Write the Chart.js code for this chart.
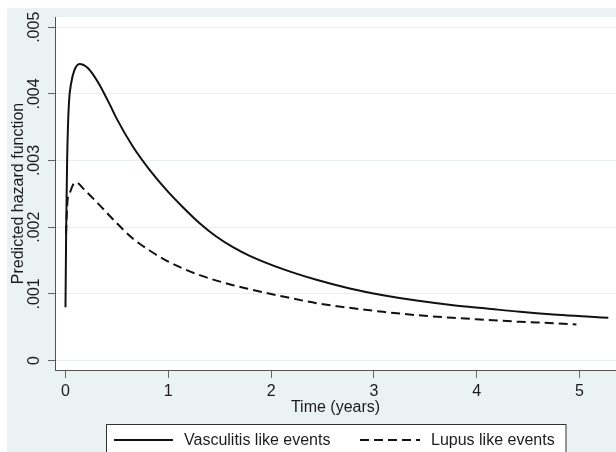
<!DOCTYPE html>
<html>
<head>
<meta charset="utf-8">
<script src="https://cdn.jsdelivr.net/npm/chart.js@4.4.0/dist/chart.umd.min.js"></script>
<style>
  html, body { margin: 0; padding: 0; background: #fff; }
  canvas { display: block; }
</style>
</head>
<body>
<canvas id="hazardChart" width="616" height="452"></canvas>
<script>
// values
const vascTime = [0.0, 0.007, 0.016, 0.024, 0.035, 0.055, 0.088, 0.136, 0.217, 0.315, 0.428, 0.494, 0.655, 0.818, 0.981, 1.142, 1.305, 1.467, 1.629, 1.792, 2.116, 2.441, 2.765, 3.09, 3.415, 3.771, 4.096, 4.421, 4.745, 5.07, 5.28];
const vascHazard = [0.0008, 0.0020, 0.0030, 0.0035, 0.0039, 0.00416, 0.00436, 0.00445, 0.00439, 0.00418, 0.00385, 0.00364, 0.00321, 0.00286, 0.00256, 0.0023, 0.00206, 0.00186, 0.0017, 0.00157, 0.00137, 0.00121, 0.00108, 0.00098, 0.0009, 0.00083, 0.00078, 0.00073, 0.00069, 0.00066, 0.00064];

const lupusTime = [0.005, 0.02, 0.039, 0.071, 0.104, 0.185, 0.32, 0.48, 0.655, 0.818, 0.981, 1.142, 1.305, 1.629, 1.792, 2.116, 2.441, 2.765, 3.09, 3.415, 3.771, 4.096, 4.421, 4.745, 4.97];
const lupusHazard = [0.0019, 0.0024, 0.0025, 0.00263, 0.00267, 0.00256, 0.00235, 0.00209, 0.00183, 0.00165, 0.0015, 0.00138, 0.00128, 0.00113, 0.00107, 0.00096, 0.00086, 0.00079, 0.00073, 0.00068, 0.00064, 0.00061, 0.00058, 0.00056, 0.00054];

const xTicks = [0, 1, 2, 3, 4, 5];
const yTicks = [0, 0.001, 0.002, 0.003, 0.004, 0.005];
const seriesLabels = ['Vasculitis like events', 'Lupus like events'];

const toPoints = (xs, ys) => xs.map((x, i) => ({ x: x, y: ys[i] }));

const BG = 'rgb(234,242,243)';
const FONT = '"Liberation Sans", Arial, sans-serif';
const INK = '#1c1c1c';

// fond + zone blanche du graphique
const backgroundPlugin = {
    id: 'stataBackground',
    beforeDraw(chart) {
        const ctx = chart.ctx;
        const a = chart.chartArea;
        ctx.save();
        ctx.fillStyle = '#ffffff';
        ctx.fillRect(0, 0, chart.width, chart.height);
        ctx.fillStyle = BG;
        ctx.fillRect(7, 8, chart.width - 7, chart.height - 8);
        ctx.fillStyle = '#ffffff';
        ctx.fillRect(a.left, a.top, a.right - a.left, a.bottom - a.top);
        ctx.restore();
    }
};

// légende encadrée en bas
const boxLegendPlugin = {
    id: 'boxLegend',
    afterDraw(chart) {
        const ctx = chart.ctx;
        ctx.save();
        ctx.fillStyle = '#ffffff';
        ctx.strokeStyle = '#333333';
        ctx.lineWidth = 1;
        ctx.fillRect(106.5, 424.5, 459.5, 40);
        ctx.strokeRect(106.5, 424.5, 459.5, 40);

        const items = [
            { x0: 114, x1: 173, tx: 184 },
            { x0: 360, x1: 420, tx: 431 }
        ];
        chart.data.datasets.forEach((ds, i) => {
            const it = items[i];
            ctx.beginPath();
            ctx.setLineDash(ds.borderDash || []);
            ctx.strokeStyle = ds.borderColor;
            ctx.lineWidth = ds.borderWidth;
            ctx.moveTo(it.x0, 440);
            ctx.lineTo(it.x1, 440);
            ctx.stroke();
            ctx.setLineDash([]);
            ctx.fillStyle = INK;
            ctx.font = '16px ' + FONT;
            ctx.textBaseline = 'middle';
            ctx.textAlign = 'left';
            ctx.fillText(ds.label, it.tx, 441);
        });
        ctx.restore();
    }
};

const ctx = document.getElementById('hazardChart').getContext('2d');
new Chart(ctx, {
    type: 'line',
    data: {
        datasets: [{
            label: seriesLabels[0],
            data: toPoints(vascTime, vascHazard),
            borderColor: '#111111',
            borderWidth: 2,
            pointRadius: 0,
            cubicInterpolationMode: 'monotone',
            fill: false
        }, {
            label: seriesLabels[1],
            data: toPoints(lupusTime, lupusHazard),
            borderColor: '#111111',
            borderWidth: 2,
            borderDash: [9, 5],
            pointRadius: 0,
            cubicInterpolationMode: 'monotone',
            fill: false
        }]
    },
    options: {
        responsive: false,
        animation: false,
        layout: { padding: { top: 17, left: 0, right: 0, bottom: 0 } },
        plugins: {
            legend: { display: false },
            tooltip: { enabled: false }
        },
        scales: {
            x: {
                type: 'linear',
                min: -0.102,
                max: 5.355,
                afterBuildTicks: s => { s.ticks = xTicks.map(v => ({ value: v })); },
                afterFit: s => { s.height = 82; },
                ticks: {
                    color: INK,
                    font: { family: FONT, size: 16 },
                    padding: 4,
                    maxRotation: 0,
                    callback: v => String(v)
                },
                grid: {
                    drawOnChartArea: false,
                    drawTicks: true,
                    tickLength: 8,
                    tickColor: '#666666'
                },
                border: { display: true, color: '#555555', width: 1 },
                title: {
                    display: true,
                    text: 'Time (years)',
                    color: INK,
                    font: { family: FONT, size: 16 },
                    padding: { top: 0, bottom: 35 }
                }
            },
            y: {
                type: 'linear',
                min: -0.000143,
                max: 0.005154,
                afterBuildTicks: s => { s.ticks = yTicks.map(v => ({ value: v })); },
                afterFit: s => { s.width = 55; },
                ticks: {
                    color: INK,
                    font: { family: FONT, size: 16 },
                    minRotation: 90,
                    maxRotation: 90,
                    crossAlign: 'center',
                    padding: -2,
                    callback: v => v === 0 ? '0' : v.toFixed(3).replace(/^0/, '')
                },
                grid: {
                    color: 'rgb(232,238,240)',
                    lineWidth: 1,
                    drawTicks: true,
                    tickLength: 7,
                    tickColor: '#666666'
                },
                border: { display: true, color: '#555555', width: 1 },
                title: {
                    display: true,
                    text: 'Predicted hazard function',
                    color: INK,
                    font: { family: FONT, size: 16 },
                    padding: { top: 8.5, bottom: 0 }
                }
            }
        }
    },
    plugins: [backgroundPlugin, boxLegendPlugin]
});
</script>
</body>
</html>
